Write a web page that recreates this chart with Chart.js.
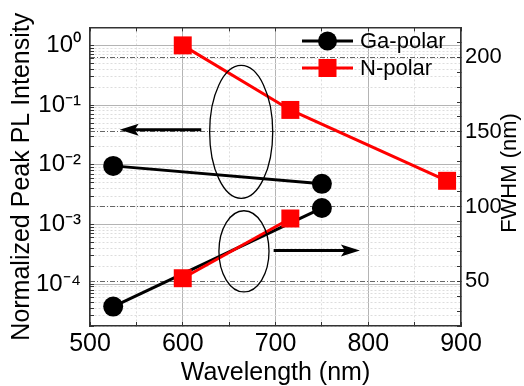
<!DOCTYPE html>
<html>
<head>
<meta charset="utf-8">
<script src="https://cdn.jsdelivr.net/npm/chart.js@4"></script>
<style>
  body { margin: 0; background: #fff; }
</style>
</head>
<body>
<canvas id="plChart" width="524" height="386"></canvas>
<script>
// wavelength (nm) of each sample
const gaWavelength = [525, 750];
const nWavelength = [600, 716, 885];
const nFwhmWavelength = [600, 716];
// normalized peak PL intensity (left axis)
const gaIntensity = [0.0096, 0.0048];
const nIntensity = [1.0, 0.083, 0.0054];
// FWHM in nm (right axis)
const gaFwhm = [33, 99];
const nFwhm = [52, 92];

const xTicks = [500, 600, 700, 800, 900];
const intensityTicks = [1e-4, 1e-3, 1e-2, 1e-1, 1];
const fwhmTicks = [50, 100, 150, 200];

const fontFamily = "'Liberation Sans', Arial, sans-serif";
Chart.defaults.font.family = fontFamily;
Chart.defaults.color = '#000';

const supMap = { '-': '\u207b', '0': '\u2070', '1': '\u00b9', '2': '\u00b2', '3': '\u00b3',
    '4': '\u2074', '5': '\u2075', '6': '\u2076', '7': '\u2077', '8': '\u2078', '9': '\u2079' };

function isDecade(v) {
    const l = Math.log10(v);
    return Math.abs(l - Math.round(l)) < 1e-6;
}
function powLabel(v) {
    const e = Math.round(Math.log10(v));
    return '10' + String(e).split('').map(c => supMap[c]).join('');
}
function pairs(xs, ys) {
    return xs.map((x, i) => ({ x: x, y: ys[i] }));
}

const frameColor = '#333';
const majorGrid = '#b4b4b4';
const minorGrid = '#dddddd';

// ellipses, arrows, legend and right title
const overlay = {
    id: 'overlay',
    afterDatasetsDraw(chart) {
        const ctx = chart.ctx;
        const xs = chart.scales.x, ys = chart.scales.y2;
        ctx.save();
        ctx.strokeStyle = '#000';
        ctx.lineWidth = 1.3;
        [[663, 150, 34, 44.5], [666, 70, 27, 27.2]].forEach(([cx, cy, rx, ry]) => {
            const px = xs.getPixelForValue(cx), py = ys.getPixelForValue(cy);
            const prx = xs.getPixelForValue(cx + rx) - px;
            const pry = py - ys.getPixelForValue(cy + ry);
            ctx.beginPath();
            ctx.ellipse(px, py, prx, pry, 0, 0, Math.PI * 2);
            ctx.stroke();
        });
        // arrows: [from x, to x, at y]
        [[620, 532, 151.5], [698, 791, 70.6]].forEach(([x0, x1, yv]) => {
            const p0 = xs.getPixelForValue(x0), p1 = xs.getPixelForValue(x1);
            const py = ys.getPixelForValue(yv);
            const dir = Math.sign(p1 - p0);
            ctx.lineWidth = 3;
            ctx.beginPath();
            ctx.moveTo(p0, py);
            ctx.lineTo(p1 - dir * 12, py);
            ctx.stroke();
            ctx.fillStyle = '#000';
            ctx.beginPath();
            ctx.moveTo(p1, py);
            ctx.lineTo(p1 - dir * 19, py - 6);
            ctx.lineTo(p1 - dir * 15, py);
            ctx.lineTo(p1 - dir * 19, py + 6);
            ctx.closePath();
            ctx.fill();
        });
        ctx.restore();
    },
    afterDraw(chart) {
        const ctx = chart.ctx;
        ctx.save();
        // legend
        const rows = [0, 1];
        rows.forEach((di, k) => {
            const ds = chart.data.datasets[di];
            const y = 41 + k * 27;
            ctx.strokeStyle = ds.borderColor;
            ctx.lineWidth = 3;
            ctx.beginPath();
            ctx.moveTo(302, y);
            ctx.lineTo(353, y);
            ctx.stroke();
            ctx.fillStyle = ds.borderColor;
            if (ds.pointStyle === 'rect') {
                ctx.fillRect(327.5 - 9, y - 9, 18, 18);
            } else {
                ctx.beginPath();
                ctx.arc(327.5, y, 9.5, 0, Math.PI * 2);
                ctx.fill();
            }
            ctx.fillStyle = '#000';
            ctx.font = '22px ' + fontFamily;
            ctx.textAlign = 'left';
            ctx.textBaseline = 'middle';
            ctx.fillText(ds.label, 360, y + 1);
        });
        // right axis title, reading upward
        ctx.translate(510, 173);
        ctx.rotate(-Math.PI / 2);
        ctx.font = '22px ' + fontFamily;
        ctx.textAlign = 'center';
        ctx.textBaseline = 'middle';
        ctx.fillStyle = '#000';
        ctx.fillText('FWHM (nm)', 0, 0);
        ctx.restore();
    }
};

const ctx = document.getElementById('plChart').getContext('2d');
new Chart(ctx, {
    type: 'scatter',
    data: {
        datasets: [{
            label: 'Ga-polar',
            data: pairs(gaWavelength, gaIntensity),
            yAxisID: 'y',
            borderColor: '#000',
            backgroundColor: '#000',
            pointStyle: 'circle',
            pointRadius: 10,
            order: 2
        }, {
            label: 'N-polar',
            data: pairs(nWavelength, nIntensity),
            yAxisID: 'y',
            borderColor: '#ff0000',
            backgroundColor: '#ff0000',
            pointStyle: 'rect',
            pointRadius: 12.7,
            order: 1
        }, {
            label: 'Ga-polar FWHM',
            data: pairs(gaWavelength, gaFwhm),
            yAxisID: 'y2',
            borderColor: '#000',
            backgroundColor: '#000',
            pointStyle: 'circle',
            pointRadius: 10,
            order: 2
        }, {
            label: 'N-polar FWHM',
            data: pairs(nFwhmWavelength, nFwhm),
            yAxisID: 'y2',
            borderColor: '#ff0000',
            backgroundColor: '#ff0000',
            pointStyle: 'rect',
            pointRadius: 12.7,
            order: 1
        }]
    },
    options: {
        responsive: false,
        animation: false,
        clip: false,
        layout: { padding: 0 },
        elements: {
            line: { borderWidth: 3, tension: 0 },
            point: { borderWidth: 0 }
        },
        datasets: { scatter: { showLine: true } },
        plugins: {
            legend: { display: false },
            tooltip: { enabled: false }
        },
        scales: {
            x: {
                type: 'linear',
                position: 'bottom',
                min: 500,
                max: 900,
                afterFit: s => { s.height = 60; },
                ticks: {
                    stepSize: 50,
                    autoSkip: false,
                    maxRotation: 0,
                    padding: 7,
                    font: { size: 25 },
                    callback: v => xTicks.includes(v) ? String(v) : ''
                },
                grid: {
                    color: c => c.tick && xTicks.includes(c.tick.value) ? majorGrid : minorGrid,
                    tickColor: frameColor,
                    tickLength: -4,
                    lineWidth: 1
                },
                border: {
                    color: frameColor,
                    width: 1.5,
                    dash: c => c.tick && !xTicks.includes(c.tick.value) ? [2, 2] : []
                },
                title: {
                    display: true,
                    text: 'Wavelength (nm)',
                    font: { size: 25, lineHeight: 1 },
                    padding: { top: 0, bottom: 0 }
                }
            },
            xTop: {
                type: 'linear',
                position: 'top',
                min: 500,
                max: 900,
                afterFit: s => { s.height = 25; },
                ticks: { stepSize: 50, display: false },
                grid: { drawOnChartArea: false, tickColor: frameColor, tickLength: -4 },
                border: { color: frameColor, width: 1.5 }
            },
            y: {
                type: 'logarithmic',
                position: 'left',
                min: 2e-5,
                max: 2,
                afterFit: s => { s.width = 90; },
                afterBuildTicks: s => {
                    const ticks = [];
                    for (let e = -5; e <= 0; e++) {
                        for (let m = 1; m < 10; m++) {
                            const v = m * Math.pow(10, e);
                            if (v >= s.min * 0.999 && v <= s.max * 1.001) {
                                ticks.push({ value: v, major: m === 1 });
                            }
                        }
                    }
                    s.ticks = ticks;
                },
                ticks: {
                    autoSkip: false,
                    padding: 13,
                    font: { size: 24 },
                    callback: v => isDecade(v) && intensityTicks.some(t => Math.abs(t - v) < t * 1e-6) ? powLabel(v) : ''
                },
                grid: {
                    color: c => c.tick && isDecade(c.tick.value) ? majorGrid : minorGrid,
                    tickColor: frameColor,
                    tickLength: -4
                },
                border: {
                    color: frameColor,
                    width: 1.5,
                    dash: c => c.tick && !isDecade(c.tick.value) ? [2, 2] : []
                },
                title: {
                    display: true,
                    text: 'Normalized Peak PL Intensity',
                    font: { size: 25 },
                    padding: { top: 7, bottom: 0 }
                }
            },
            y2: {
                type: 'linear',
                position: 'right',
                min: 20,
                max: 220,
                afterFit: s => { s.width = 63; },
                ticks: {
                    stepSize: 10,
                    autoSkip: false,
                    padding: 8,
                    font: { size: 22 },
                    callback: v => fwhmTicks.includes(v) ? String(v) : ''
                },
                grid: {
                    color: c => c.tick && fwhmTicks.includes(c.tick.value) ? '#666' : 'rgba(0,0,0,0)',
                    tickColor: frameColor,
                    tickLength: -4
                },
                border: {
                    color: frameColor,
                    width: 1.5,
                    dash: c => c.tick ? [5, 2, 1, 2] : []
                }
            }
        }
    },
    plugins: [overlay]
});
</script>
</body>
</html>
